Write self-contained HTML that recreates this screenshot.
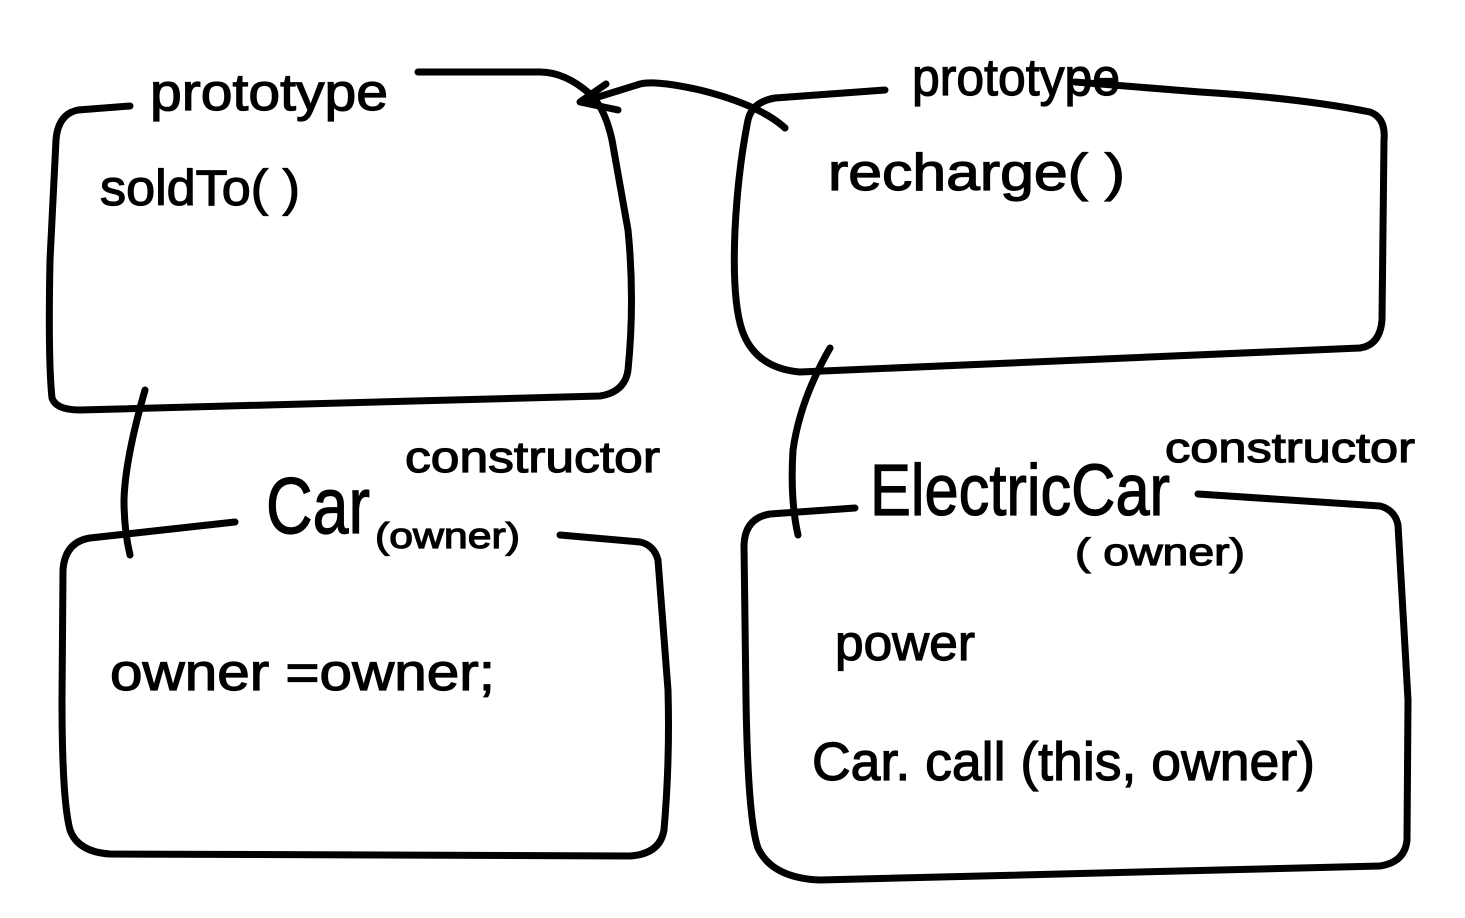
<!DOCTYPE html>
<html><head><meta charset="utf-8"><style>
html,body{margin:0;padding:0;background:#fff;}
svg{display:block}
text{font-family:"Liberation Sans",sans-serif;fill:#000;stroke:#000;stroke-width:1.2;}
</style></head><body>
<svg width="1465" height="918" viewBox="0 0 1465 918" xmlns="http://www.w3.org/2000/svg">
<g fill="none" stroke="#000" stroke-width="7" stroke-linecap="round" stroke-linejoin="round">
<path d="M130,106 L78,110 Q58,114 56,140 L50,260 Q48,360 52,398 Q56,410 80,410 L600,396 Q625,392 628,370 Q635,300 628,230 L612,140 Q605,108 590,94 Q565,72 540,72 L418,72"/>
<path d="M785,128 Q760,105 700,90 Q655,80 640,84 L582,102"/>
<path d="M606,84 L580,102 L618,110"/>
<path d="M885,90 L775,98 Q752,102 748,120 Q738,170 735,230 Q732,300 742,330 Q755,368 800,372 L1360,348 Q1380,345 1382,320 L1384,140 Q1386,118 1370,112 Q1300,98 1200,92 L1075,82"/>
<path d="M145,390 Q125,460 124,500 Q124,530 130,555"/>
<path d="M830,348 Q800,400 793,450 Q790,500 798,535"/>
<path d="M235,522 L90,538 Q65,542 63,570 L62,700 Q62,800 70,830 Q78,852 110,854 L630,856 Q660,854 664,830 Q670,760 668,690 L658,560 Q654,545 640,542 L560,535"/>
<path d="M855,508 L770,514 Q745,518 744,545 L746,700 Q748,820 758,848 Q772,878 820,880 L1380,866 Q1405,862 1407,840 L1408,700 L1398,525 Q1395,510 1380,506 L1198,494"/>
</g>
<text x="150" y="110" font-size="52" textLength="238" lengthAdjust="spacingAndGlyphs">prototype</text>
<text x="100" y="205" font-size="50" textLength="200" lengthAdjust="spacingAndGlyphs">soldTo( )</text>
<text x="912" y="95" font-size="52" textLength="208" lengthAdjust="spacingAndGlyphs">prototype</text>
<text x="828" y="190" font-size="52" textLength="297" lengthAdjust="spacingAndGlyphs">recharge( )</text>
<text x="405" y="472" font-size="44" textLength="255" lengthAdjust="spacingAndGlyphs">constructor</text>
<text x="266" y="533" font-size="80" textLength="104" lengthAdjust="spacingAndGlyphs">Car</text>
<text x="375" y="548" font-size="36" textLength="145" lengthAdjust="spacingAndGlyphs">(owner)</text>
<text x="110" y="690" font-size="52" textLength="385" lengthAdjust="spacingAndGlyphs">owner =owner;</text>
<text x="1165" y="462" font-size="42" textLength="250" lengthAdjust="spacingAndGlyphs">constructor</text>
<text x="870" y="515" font-size="72" textLength="300" lengthAdjust="spacingAndGlyphs">ElectricCar</text>
<text x="1075" y="565" font-size="38" textLength="170" lengthAdjust="spacingAndGlyphs">( owner)</text>
<text x="835" y="660" font-size="50" textLength="140" lengthAdjust="spacingAndGlyphs">power</text>
<text x="812" y="780" font-size="54" textLength="503" lengthAdjust="spacingAndGlyphs">Car. call (this, owner)</text>
</svg>
</body></html>
